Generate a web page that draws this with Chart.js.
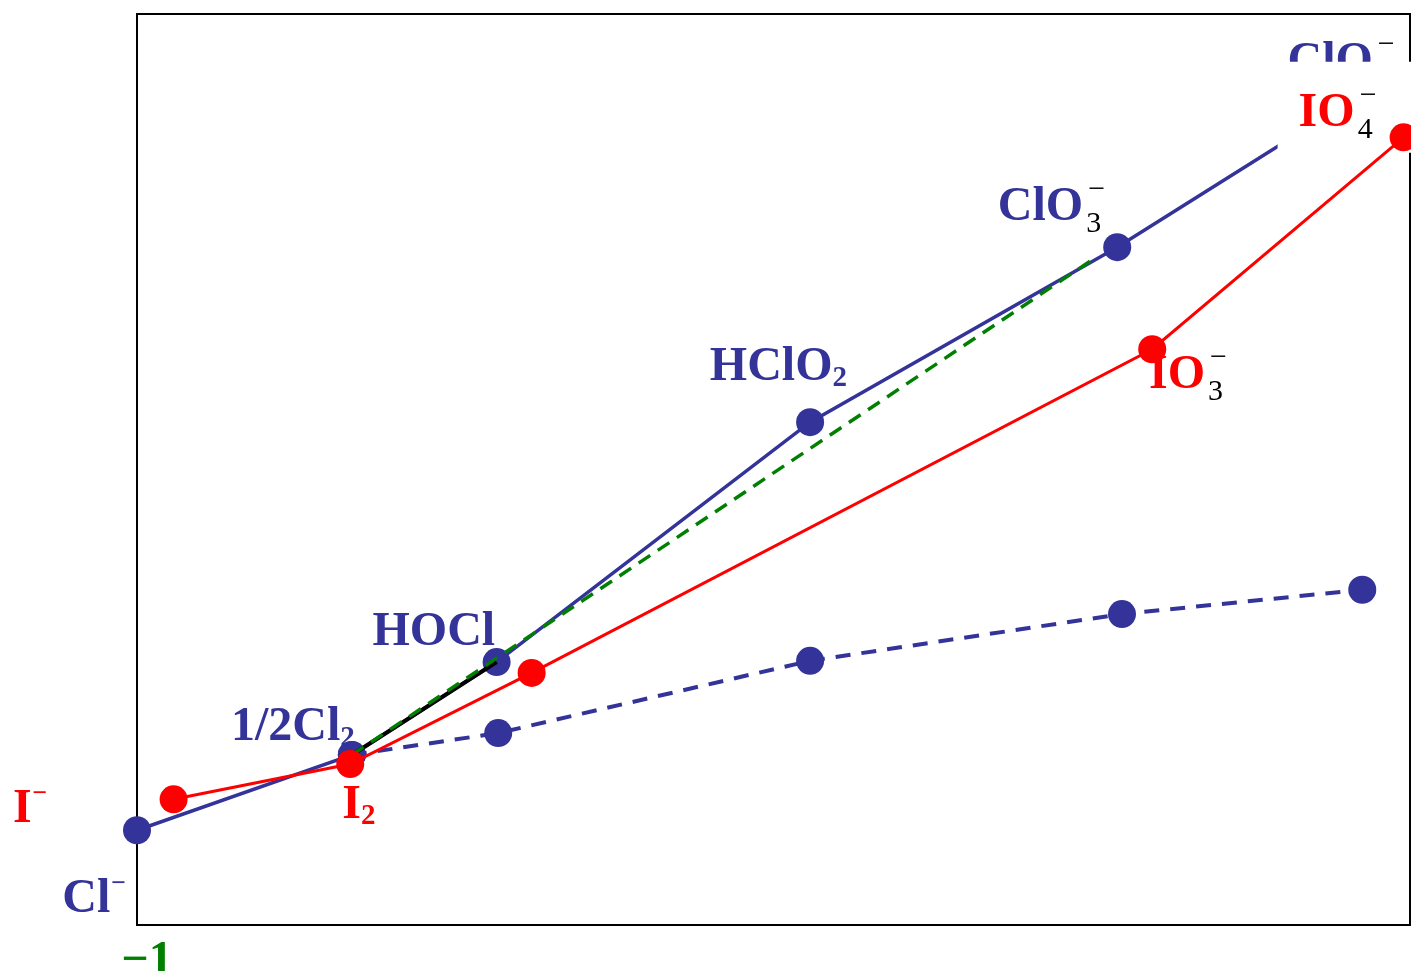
<!DOCTYPE html>
<html>
<head>
<meta charset="utf-8">
<style>
  html, body { margin: 0; padding: 0; background: #fff; }
</style>
<script src="https://cdn.jsdelivr.net/npm/chart.js@4.4.1/dist/chart.umd.min.js"></script>
</head>
<body>
<canvas id="frost" width="1411" height="971"></canvas>
<script>
// Frost diagram: x = oxidation state (as drawn), y = nE° (V)
const chlorineX = [-1, 0.35, 1.26, 3.23, 5.16, 6.69];
const chlorineY = [-1.24, 0, 1.53, 5.48, 8.36, 10.88];
const basicX = [0.35, 1.27, 3.23, 5.19, 6.70];
const basicY = [0, 0.36, 1.55, 2.32, 2.72];
const iodineX = [-0.77, 0.34, 1.48, 5.38, 6.96];
const iodineY = [-0.73, -0.15, 1.35, 6.68, 10.17];
const tangentX = [0.35, 5.03];
const tangentY = [0, 8.2];
const chordX = [0.35, 1.26];
const chordY = [0, 1.53];
const xTicks = [-1];
const xTickLabels = ['−1'];

// species names, anchored (left, baseline) in data units
const species = [
  { el: 'Cl', text: 'Cl', sup: '−', x: -1.47, y: -2.59 },
  { el: 'I', text: 'I', sup: '−', x: -1.78, y: -1.10 },
  { el: 'Cl', text: '1/2Cl', sub: '2', x: -0.41, y: 0.25 },
  { el: 'I', text: 'I', sub: '2', x: 0.29, y: -1.04 },
  { el: 'Cl', text: 'HOCl', x: 0.48, y: 1.81 },
  { el: 'Cl', text: 'HClO', sub: '2', x: 2.60, y: 6.17 },
  { el: 'Cl', text: 'ClO', sub: '3', sup: '−', x: 4.41, y: 8.81 },
  { el: 'I', text: 'IO', sub: '3', sup: '−', x: 5.36, y: 6.04 },
  { el: 'Cl', text: 'ClO', sub: '4', sup: '−', x: 6.23, y: 11.2 },
  { el: 'I', text: 'IO', sub: '4', sup: '−', x: 6.30, y: 10.36, boxed: true }
];

const BLUE = '#333399';
const RED = '#ff0000';
const GREEN = '#008000';
const SERIF = '"Liberation Serif", "Times New Roman", serif';

const pts = (xs, ys) => xs.map((x, i) => ({ x, y: ys[i] }));

function drawSpecies(ctx, s, xs, ys) {
  const px = xs.getPixelForValue(s.x);
  const py = ys.getPixelForValue(s.y);
  const color = s.el === 'I' ? RED : BLUE;
  ctx.textAlign = 'left';
  ctx.textBaseline = 'alphabetic';
  ctx.font = 'bold 48px ' + SERIF;
  ctx.fillStyle = color;
  ctx.fillText(s.text, px, py);
  const end = px + ctx.measureText(s.text).width;
  if (s.sub && s.sup) {
    ctx.font = '30px ' + SERIF;
    ctx.fillStyle = '#000';
    ctx.fillText(s.sub, end + 3, py + 12);
    ctx.fillText(s.sup, end + 5, py - 22);
  } else if (s.sub) {
    ctx.font = 'bold 29px ' + SERIF;
    ctx.fillText(s.sub, end, py + 6);
  } else if (s.sup) {
    ctx.font = 'bold 26px ' + SERIF;
    ctx.fillText(s.sup, end + 1, py - 21);
  }
}

const frostDecor = {
  id: 'frostDecor',
  beforeDatasetsDraw(chart) {
    const { ctx, chartArea: a, scales } = chart;
    ctx.save();
    ctx.strokeStyle = '#000';
    ctx.lineWidth = 2;
    ctx.strokeRect(a.left, a.top, a.right - a.left, a.bottom - a.top);
    species.filter(s => !s.boxed).forEach(s => drawSpecies(ctx, s, scales.x, scales.y));
    ctx.restore();
  },
  beforeDatasetDraw(chart, args) {
    if (args.index !== 0) return; // iodine line sits on top of the boxed label
    const { ctx, chartArea: a, scales } = chart;
    const s = species.find(sp => sp.boxed);
    const px = scales.x.getPixelForValue(s.x);
    const py = scales.y.getPixelForValue(s.y);
    ctx.save();
    ctx.fillStyle = '#fff';
    ctx.fillRect(px - 21, py - 64, a.right + 2 - (px - 21), 91);
    drawSpecies(ctx, s, scales.x, scales.y);
    ctx.restore();
  }
};

new Chart(document.getElementById('frost'), {
  type: 'line',
  data: {
    datasets: [
      {
        label: 'Iodine',
        data: pts(iodineX, iodineY),
        borderColor: RED,
        borderWidth: 3,
        pointRadius: 14,
        pointBackgroundColor: RED,
        pointBorderWidth: 0,
        clip: false
      },
      {
        label: 'Tangent',
        data: pts(tangentX, tangentY),
        borderColor: GREEN,
        borderWidth: 3.5,
        borderDash: [14, 9],
        pointRadius: 0,
        clip: false
      },
      {
        label: 'Chord',
        data: pts(chordX, chordY),
        borderColor: '#000',
        borderWidth: 4,
        pointRadius: 0,
        clip: false
      },
      {
        label: 'Chlorine (basic)',
        data: pts(basicX, basicY),
        borderColor: BLUE,
        borderWidth: 4,
        borderDash: [15, 11],
        pointRadius: 14,
        pointBackgroundColor: BLUE,
        pointBorderWidth: 0,
        clip: false
      },
      {
        label: 'Chlorine',
        data: pts(chlorineX, chlorineY),
        borderColor: BLUE,
        borderWidth: 3.5,
        pointRadius: 14,
        pointBackgroundColor: BLUE,
        pointBorderWidth: 0,
        clip: false
      }
    ]
  },
  options: {
    responsive: false,
    devicePixelRatio: 1,
    animation: false,
    layout: { autoPadding: false, padding: { left: 137, right: 1, top: 14, bottom: 0 } },
    plugins: { legend: { display: false }, tooltip: { enabled: false } },
    elements: { line: { tension: 0 } },
    scales: {
      x: {
        type: 'linear',
        min: -1,
        max: 7,
        grid: { display: false },
        border: { display: false },
        afterBuildTicks: (scale) => { scale.ticks = xTicks.map(v => ({ value: v })); },
        afterFit: (scale) => {
          scale.height = 46;
          scale.paddingLeft = 0;
          scale.paddingRight = 0;
        },
        ticks: {
          callback: (v) => xTickLabels[xTicks.indexOf(v)] ?? '',
          font: { family: SERIF, weight: 'bold', size: 48 },
          color: GREEN,
          padding: 0,
          labelOffset: 10,
          maxRotation: 0,
          autoSkip: false
        }
      },
      y: { type: 'linear', min: -2.8, max: 12.2, display: false }
    }
  },
  plugins: [frostDecor]
});
</script>
</body>
</html>
